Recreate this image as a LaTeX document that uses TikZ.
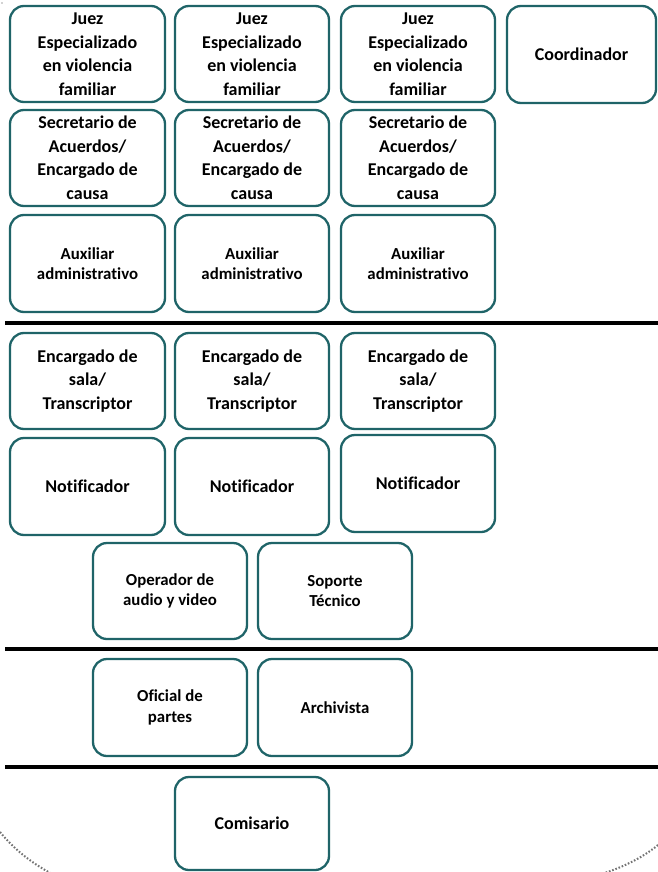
\documentclass[tikz,border=0pt]{standalone}
\usepackage{fontspec}
\setmainfont[Ligatures=CommonOff]{Carlito}
\definecolor{boxline}{HTML}{1F6468}
\tikzset{
  orgbox/.style={draw=boxline, line width=2.3pt, rounded corners=14pt, fill=white,
    align=center, inner sep=1pt, font=\bfseries\fontsize{18}{23.5}\selectfont},
  smalltext/.style={font=\bfseries\fontsize{16.8}{20.5}\selectfont},
  sepline/.style={line width=3.2pt, black},
  dotarc/.style={black!55, line width=2pt, dash pattern=on 1.6pt off 1.8pt}
}
% \bx{name}{left}{top}{right}{bottom}{options}{text}
\newcommand{\bx}[7]{%
  \node[orgbox,#6, minimum width={(#4-#2)*1pt}, minimum height={(#5-#3)*1pt}]
    (#1) at ({(#2+#4)/2},{(#3+#5)/2}) {#7};}
\begin{document}
\begin{tikzpicture}[x=1pt,y=-1pt]
\useasboundingbox (0,0) rectangle (658,872);
\fill[gray!70] (2,3) circle (0.9);
% row 1
\bx{j1}{10}{6}{165}{102}{}{Juez\\Especializado\\en violencia\\familiar}
\bx{j2}{175}{6}{329}{102}{}{Juez\\Especializado\\en violencia\\familiar}
\bx{j3}{341}{6}{495}{102}{}{Juez\\Especializado\\en violencia\\familiar}
\bx{co}{507}{6}{656}{103}{}{Coordinador}
% row 2
\bx{s1}{10}{110}{165}{206}{}{Secretario de\\Acuerdos/\\Encargado de\\causa}
\bx{s2}{175}{110}{329}{206}{}{Secretario de\\Acuerdos/\\Encargado de\\causa}
\bx{s3}{341}{110}{495}{206}{}{Secretario de\\Acuerdos/\\Encargado de\\causa}
% row 3
\bx{a1}{10}{215}{165}{312}{smalltext}{Auxiliar\\administrativo}
\bx{a2}{175}{215}{329}{312}{smalltext}{Auxiliar\\administrativo}
\bx{a3}{341}{215}{495}{312}{smalltext}{Auxiliar\\administrativo}
% separator 1
\coordinate (l1a) at (5,323); \coordinate (l1b) at (658,323);
\draw[sepline] (l1a) -- (l1b);
% row 4
\bx{e1}{10}{333}{165}{429}{}{Encargado de\\sala/\\Transcriptor}
\bx{e2}{175}{333}{329}{429}{}{Encargado de\\sala/\\Transcriptor}
\bx{e3}{341}{333}{495}{429}{}{Encargado de\\sala/\\Transcriptor}
% row 5
\bx{n1}{10}{438}{165}{535}{}{Notificador}
\bx{n2}{175}{438}{329}{535}{}{Notificador}
\bx{n3}{341}{435}{495}{532}{}{Notificador}
% row 6
\bx{op}{93}{543}{247}{639}{smalltext}{Operador de\\audio y video}
\bx{st}{258}{543}{412}{639}{smalltext}{Soporte\\Técnico}
% separator 2
\coordinate (l2a) at (5,649); \coordinate (l2b) at (658,649);
\draw[sepline] (l2a) -- (l2b);
% row 7
\bx{of}{93}{659}{247}{756}{smalltext}{Oficial de\\partes}
\bx{ar}{258}{659}{412}{756}{smalltext}{Archivista}
% separator 3
\coordinate (l3a) at (5,767); \coordinate (l3b) at (658,767);
\draw[sepline] (l3a) -- (l3b);
% row 8
\bx{cm}{175}{777}{329}{870}{}{Comisario}
% dotted arcs
\draw[dotarc] (0,832) .. controls (14,849) and (30,862) .. (52,874);
\draw[dotarc] (658,845) .. controls (642,858) and (622,868) .. (598,875);
\end{tikzpicture}
\end{document}
